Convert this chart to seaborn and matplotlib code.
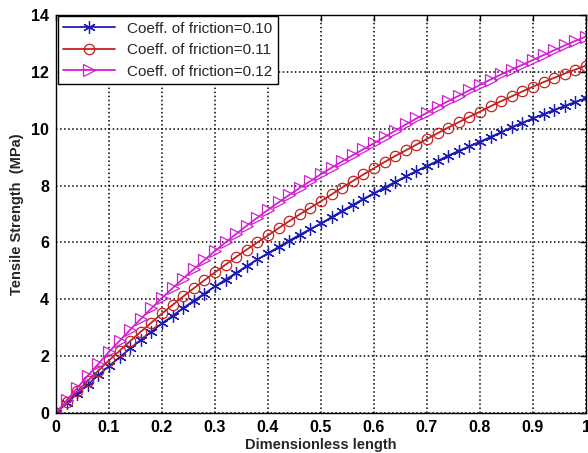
import numpy as np
import pandas as pd
import matplotlib
matplotlib.use("Agg")
import matplotlib.pyplot as plt
import seaborn as sns

# Dimensionless length, sampled every 0.02
length = np.round(np.linspace(0, 1, 51), 2)

# Tensile strength (MPa)
strength_010 = [0, 0.34, 0.68, 1.00, 1.33, 1.65, 1.96, 2.27, 2.57, 2.86,
                3.15, 3.42, 3.69, 3.95, 4.20, 4.45, 4.69, 4.93, 5.17, 5.40,
                5.62, 5.84, 6.06, 6.27, 6.47, 6.67, 6.89, 7.11, 7.32, 7.53,
                7.73, 7.93, 8.13, 8.32, 8.51, 8.69, 8.87, 9.05, 9.22, 9.38,
                9.54, 9.71, 9.88, 10.05, 10.21, 10.36, 10.51, 10.66, 10.80, 10.94,
                11.07]
strength_011 = [0, 0.38, 0.76, 1.13, 1.49, 1.85, 2.19, 2.53, 2.86, 3.18,
                3.50, 3.80, 4.10, 4.39, 4.67, 4.95, 5.22, 5.49, 5.75, 6.00,
                6.25, 6.50, 6.75, 6.99, 7.22, 7.45, 7.69, 7.93, 8.16, 8.39,
                8.61, 8.83, 9.04, 9.24, 9.44, 9.64, 9.84, 10.04, 10.23, 10.42,
                10.60, 10.79, 10.97, 11.14, 11.31, 11.48, 11.64, 11.79, 11.94, 12.08,
                12.22]
strength_012 = [0, 0.44, 0.88, 1.31, 1.73, 2.15, 2.54, 2.93, 3.31, 3.68,
                4.05, 4.39, 4.73, 5.06, 5.38, 5.70, 6.00, 6.30, 6.59, 6.87,
                7.15, 7.41, 7.67, 7.92, 8.16, 8.40, 8.63, 8.85, 9.07, 9.28,
                9.49, 9.71, 9.93, 10.15, 10.36, 10.56, 10.77, 10.97, 11.16, 11.35,
                11.54, 11.73, 11.91, 12.08, 12.25, 12.42, 12.59, 12.76, 12.93, 13.09,
                13.24]

labels = ["Coeff. of friction=0.10", "Coeff. of friction=0.11", "Coeff. of friction=0.12"]
x_ticks = [0, 0.1, 0.2, 0.3, 0.4, 0.5, 0.6, 0.7, 0.8, 0.9, 1]
x_ticklabels = ["0", "0.1", "0.2", "0.3", "0.4", "0.5", "0.6", "0.7", "0.8", "0.9", "1"]
y_ticks = [0, 2, 4, 6, 8, 10, 12, 14]

sns.set_style("white")
plt.rcParams["font.family"] = ["Liberation Sans", "DejaVu Sans"]

fig = plt.figure(figsize=(5.88, 4.53), dpi=100)
ax = fig.add_axes([0.0952, 0.0883, 0.9014, 0.8786])

styles = [
    ("#1c1cb4", (6, 2, 0), 9),
    ("#c42222", "o", 7.5),
    ("#d020d0", ">", 9),
]
for series, label, (color, marker, ms) in zip(
        [strength_010, strength_011, strength_012], labels, styles):
    df = pd.DataFrame({"length": length, "strength": series})
    sns.lineplot(data=df, x="length", y="strength", ax=ax, color=color,
                 marker=marker, markersize=ms, markerfacecolor="none",
                 markeredgecolor=color, markeredgewidth=0.9, linewidth=1.3,
                 label=label)

ax.set_xlim(0, 1)
ax.set_ylim(0, 14)
ax.set_xticks(x_ticks)
ax.set_xticklabels(x_ticklabels)
ax.set_yticks(y_ticks)
ax.tick_params(direction="in", top=True, right=True, length=4, width=1,
               color="black", labelsize=11.5, labelcolor="black", pad=5)
for t in ax.get_xticklabels() + ax.get_yticklabels():
    t.set_fontweight("bold")
ax.grid(True, color="black", linestyle=":", linewidth=1.1)
for sp in ax.spines.values():
    sp.set_color("black")
    sp.set_linewidth(1.0)

ax.set_xlabel("Dimensionless length", fontsize=10.5, fontweight="bold", labelpad=2)
ax.set_ylabel("Tensile Strength  (MPa)", fontsize=10.5, fontweight="bold", labelpad=5)

leg = ax.legend(loc="upper left", bbox_to_anchor=(0.003, 0.997), fontsize=11,
                frameon=True, fancybox=False, edgecolor="black", framealpha=1,
                handlelength=3.4, labelspacing=0.5, borderaxespad=0, borderpad=0.35)
leg.get_frame().set_linewidth(1.0)

fig.savefig("out.png", dpi=100)
